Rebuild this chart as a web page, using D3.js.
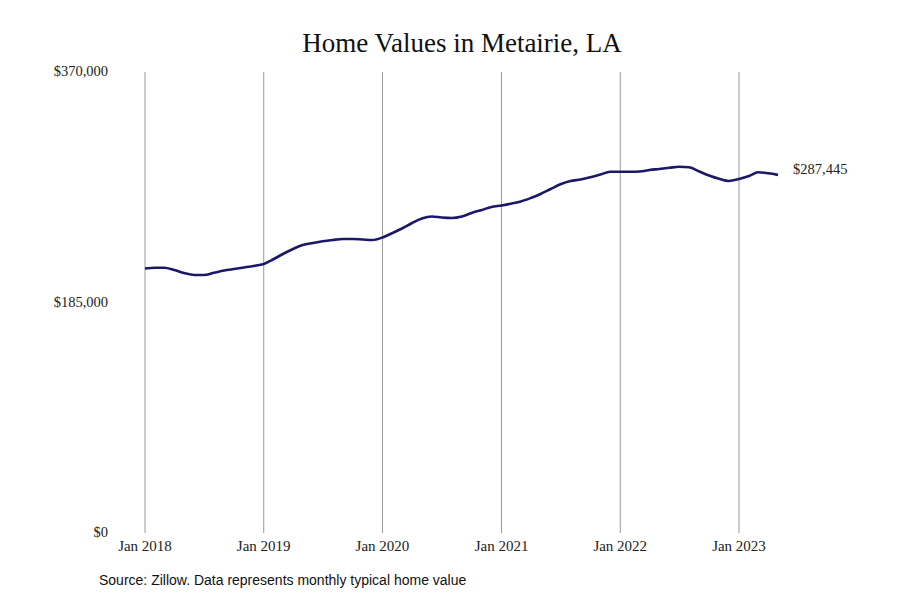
<!DOCTYPE html>
<html><head><meta charset="utf-8">
<script src="https://cdn.jsdelivr.net/npm/d3@7"></script>
<style>body{margin:0;background:#fff}</style>
</head><body><svg id="c" width="900" height="600"></svg>
<script>
const title = "Home Values in Metairie, LA";
const source = "Source: Zillow. Data represents monthly typical home value";
const startYear = 2018, startMonth = 0;
const values = [212300,212850,212850,211080,208680,207070,207070,208840,210680,211890,213090,214290,
215900,219910,223930,227940,231150,232750,234120,235160,235960,235960,235560,235160,
237170,240780,244390,248810,252420,254020,253220,252820,254020,256830,259240,261650,
262850,264460,266060,268870,272080,276090,279860,282520,283720,285490,287730,289980,
289980,289980,290140,291340,292150,293110,293990,293510,290140,286930,284280,282520,
284120,286530,289500,288700,287445];
const yTicks = [0,185000,370000];
const xTickYears = [2018,2019,2020,2021,2022,2023];

const dates = values.map((v,i)=>new Date(startYear, startMonth+i, 1));
const svg = d3.select("#c");
const x = d3.scaleTime().domain([new Date(2018,0,1), new Date(2023,0,1)]).range([145,739]);
const y = d3.scaleLinear().domain([0,370000]).range([533,72]);
const serif = "'Liberation Serif','DejaVu Serif',serif";

svg.append("text").attr("x",462).attr("y",52).attr("text-anchor","middle")
  .attr("font-family",serif).attr("font-size",27).attr("fill","#111").text(title);

const xt = xTickYears.map(yr=>new Date(yr,0,1));
svg.append("g").selectAll("line").data(xt).join("line")
  .attr("x1",d=>x(d)).attr("x2",d=>x(d)).attr("y1",72).attr("y2",533)
  .attr("stroke","#9a9a9a").attr("stroke-width",1);

svg.append("g").selectAll("text").data(xt).join("text")
  .attr("x",d=>x(d)).attr("y",551).attr("text-anchor","middle")
  .attr("font-family",serif).attr("font-size",15).attr("fill","#222")
  .text(d=>d3.timeFormat("Jan %Y")(d));

const fmt = d3.format("$,.0f");
svg.append("g").selectAll("text").data(yTicks).join("text")
  .attr("x",108).attr("y",d=>y(d)+4).attr("text-anchor","end")
  .attr("font-family",serif).attr("font-size",14.5).attr("fill","#222")
  .text(d=>fmt(d));

const line = d3.line().x((d,i)=>x(dates[i])).y(d=>y(d)).curve(d3.curveMonotoneX);
svg.append("path").datum(values).attr("d",line).attr("fill","none")
  .attr("stroke","#1c1868").attr("stroke-width",2.6).attr("stroke-linejoin","round");

const last = values[values.length-1];
svg.append("text").attr("x",x(dates[dates.length-1])+15).attr("y",y(last)-1)
  .attr("font-family",serif).attr("font-size",14.5).attr("fill","#222")
  .text(fmt(last));

svg.append("text").attr("x",99).attr("y",585)
  .attr("font-family","'Liberation Sans Narrow','Liberation Sans',sans-serif").attr("font-size",14).attr("fill","#111")
  .text(source);
</script></body></html>
